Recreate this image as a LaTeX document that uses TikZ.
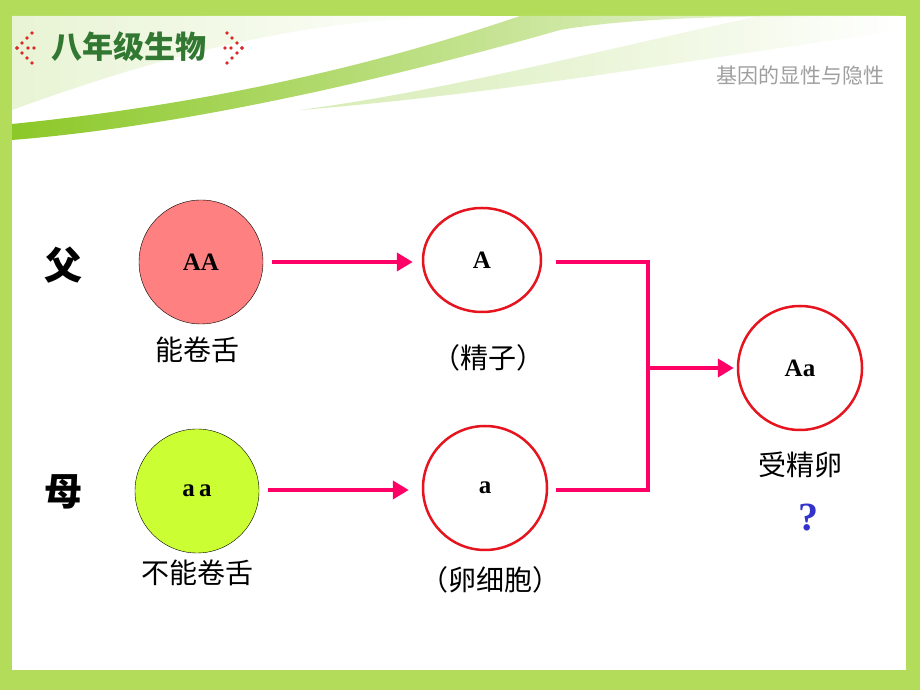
\documentclass[tikz,border=0pt]{standalone}
\usepackage{fontspec}
\setmainfont{Liberation Serif}
\newfontfamily\cjk{Noto Sans CJK SC}
\usetikzlibrary{positioning,arrows.meta,shapes.geometric}
\definecolor{frame}{RGB}{178,220,90}
\definecolor{pinkline}{RGB}{255,0,102}
\definecolor{ringred}{RGB}{230,20,30}
\definecolor{salmon}{RGB}{255,128,128}
\definecolor{lime}{RGB}{204,255,51}
\definecolor{leaf}{RGB}{50,120,50}
\definecolor{swoosh}{RGB}{140,200,40}
\definecolor{dotred}{RGB}{220,40,40}
\definecolor{qblue}{RGB}{51,51,204}

\tikzset{
  parent/.style={circle, draw=black, thin, minimum size=124pt, inner sep=0pt,
    font=\fontsize{25}{25}\selectfont\bfseries},
  gamete/.style={draw=ringred, line width=2.5pt, inner sep=0pt,
    font=\fontsize{25}{25}\selectfont\bfseries},
  caption/.style={font=\cjk\fontsize{28}{28}\selectfont},
  feed/.style={pinkline, line width=4pt, -{Triangle[length=16pt,width=18pt]}},
  bracket/.style={pinkline, line width=4pt}
}

\begin{document}
\begin{tikzpicture}[x=1pt,y=1pt]
        \useasboundingbox (0,0) rectangle (920,690);
        % frame and header
        \fill[frame] (0,0) rectangle (920,690);
        \fill[white] (12,20) rectangle (906,674);
        \shade[left color=swoosh!20, right color=white]
            (12,580) .. controls (150,630) and (300,674) .. (480,674)
            -- (12,674) -- cycle;
        \shade[left color=swoosh!35, right color=white]
            (300,580) .. controls (450,592) and (600,615) .. (700,630)
            -- (900,660) -- (900,674) -- (760,674)
            .. controls (600,640) and (450,600) .. (300,580) -- cycle;
        \shade[left color=swoosh, right color=swoosh!10]
            (12,550) .. controls (200,565) and (420,620) .. (560,660)
            .. controls (640,674) and (760,674) .. (880,674)
            -- (520,674) .. controls (420,640) and (250,590) .. (12,566) -- cycle;
        \foreach \i in {0,...,3} {
            \fill[dotred] (17+5*\i,642+5*\i) circle (1.9);
            \fill[dotred] (17+5*\i,642-5*\i) circle (1.9);
            \fill[dotred] (242-5*\i,642+5*\i) circle (1.9);
            \fill[dotred] (242-5*\i,642-5*\i) circle (1.9);
        }
        \foreach \i in {1,2} {
            \fill[dotred] (22+6*\i,642) circle (1.9);
            \fill[dotred] (237-6*\i,642) circle (1.9);
        }
        \node[font=\cjk\bfseries\fontsize{31}{31}\selectfont, text=leaf] (grade) at (129,643) {八年级生物};
        \node[font=\cjk\fontsize{21}{21}\selectfont, text=gray!75] (topic) at (800,615) {基因的显性与隐性};

        % parents
        \node[font=\cjk\bfseries\fontsize{38}{38}\selectfont] (father) at (63,425) {父};
        \node[font=\cjk\bfseries\fontsize{38}{38}\selectfont] (mother) at (63,198) {母};
        \node[parent, fill=salmon] (AA) at (201,428) {AA};
        \node[parent, fill=lime] (aa) at (197,199) {a\,a};
        \node[caption] (roll) at (197,340) {能卷舌};
        \node[caption] (noroll) at (197,117) {不能卷舌};

        % gametes
        \node[gamete, ellipse, minimum width=118pt, minimum height=104pt] (A) at (482,430) {A};
        \node[gamete, circle, minimum size=124pt] (a) at (485,202) {a};
        \node[caption] (sperm) at (488,332) {（精子）};
        \node[caption] (egg) at (490,110) {（卵细胞）};

        % zygote
        \node[gamete, circle, minimum size=124pt] (Aa) at (800,322) {Aa};
        \node[caption] (zygote) at (800,225) {受精卵};
        \node[font=\fontsize{40}{40}\selectfont\bfseries, text=qblue] (ask) at (808,172) {?};

        % arrows
        \draw[feed, shorten <=9pt, shorten >=9pt] (AA.east |- 0,428) -- (A.west |- 0,428);
        \draw[feed, shorten <=9pt, shorten >=13pt] (aa.east |- 0,200) -- (a.west |- 0,200);
        \coordinate (jt) at (648,428);
        \coordinate (jb) at (648,200);
        \coordinate (jm) at (648,322);
        \draw[bracket, shorten <=14pt, shorten >=8pt] (A.east |- jt) -- (jt) -- (jb) -- (a.east |- jb);
        \draw[feed, shorten >=3pt] (jm) -- (Aa.west);
    \end{tikzpicture}
\end{document}
